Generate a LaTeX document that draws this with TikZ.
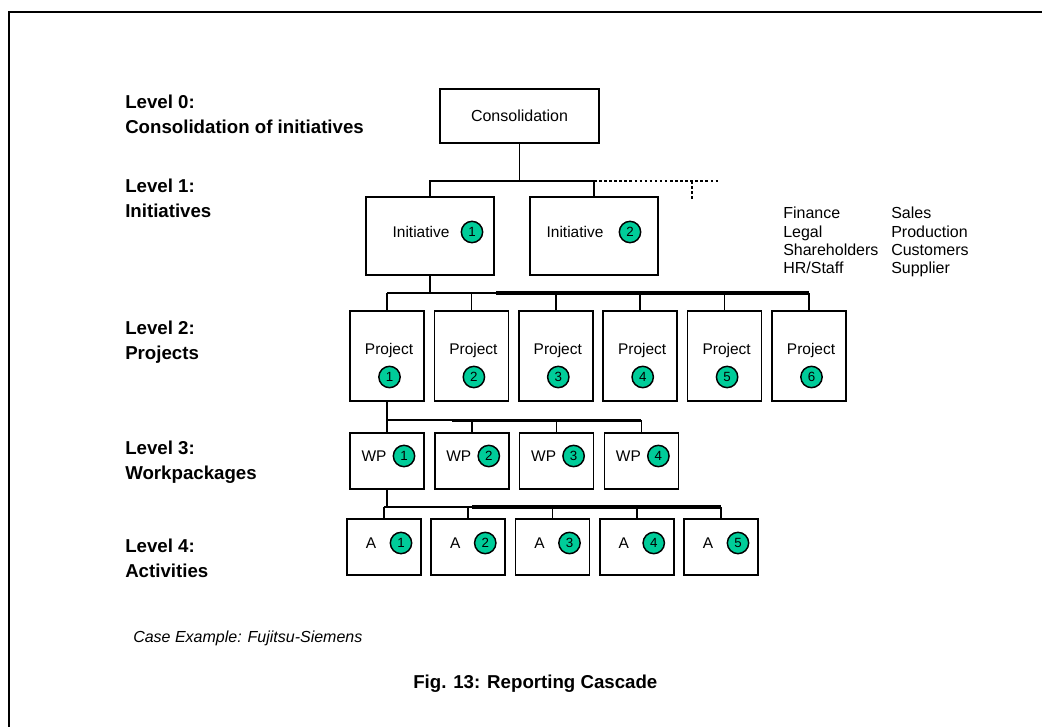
\documentclass[tikz,border=0pt]{standalone}
\usepackage{fontspec}
\setmainfont{Liberation Sans}
\usetikzlibrary{calc}

\definecolor{tealgreen}{RGB}{0,204,153}

\tikzset{
  box/.style={draw, line width=1.2pt, inner sep=0pt, font=\fontsize{12}{12}\selectfont},
  num/.style={circle, draw, fill=tealgreen, line width=1.1pt, minimum size=16pt, inner sep=0pt, font=\fontsize{10}{10}\selectfont},
  lbl/.style={inner sep=0pt, font=\fontsize{11.6}{12}\selectfont},
  levl/.style={anchor=north west, align=left, inner sep=0pt, font=\bfseries\fontsize{14}{18.75}\selectfont},
  lst/.style={anchor=north west, align=left, inner sep=0pt, font=\fontsize{12}{13.7}\selectfont},
  wire/.style={line width=1.15pt},
  bar/.style={line width=3pt},
  dots/.style={line width=1.9pt, dash pattern=on 1.9pt off 1.9pt},
}

\begin{document}
\begin{tikzpicture}[x=0.75pt, y=-0.75pt]
\useasboundingbox (0,0) rectangle (1042,727);

% page frame
\draw[line width=1.5pt] (9,727) -- (9,12) -- (1042,12);

% heights of the buses
\coordinate (bus0) at (0,181);
\coordinate (bus2) at (0,293);
\coordinate (bus3) at (0,420);
\coordinate (bus4) at (0,507);

% level captions
\node[levl] (lv0) at (125,95) {Level 0:\\Consolidation of initiatives};
\node[levl] (lv1) at (125,179) {Level 1:\\Initiatives};
\node[levl] (lv2) at (125,321) {Level 2:\\Projects};
\node[levl] (lv3) at (125,441) {Level 3:\\Workpackages};
\node[levl] (lv4) at (125,539) {Level 4:\\Activities};

% level 0
\node[box, minimum width=119pt, minimum height=40.5pt] (cons) at (519.5,116) {Consolidation};

% level 1
\node[box, minimum width=96pt, minimum height=58.5pt] (ini1) at (430,236) {};
\node[lbl] (ini1-t) at ($(ini1)+(-9,-4)$) {Initiative};
\node[num] (ini1-n) at ($(ini1)+(42,-4)$) {1};
\node[box, minimum width=96pt, minimum height=58.5pt] (ini2) at (594,236) {};
\node[lbl] (ini2-t) at ($(ini2)+(-19,-4)$) {Initiative};
\node[num] (ini2-n) at ($(ini2)+(36,-4)$) {2};

\draw[wire] (cons.south) -- (cons.south |- bus0);
\draw[wire] (ini1.north) -- (ini1.north |- bus0) -| (ini2.north);

% further initiatives (dotted)
\coordinate (dotE) at (719,181);
\coordinate (dotS) at (692,199);
\draw[dots] (ini2.north |- bus0) -- (dotE);
\draw[dots] (dotS |- bus0) -- (dotS);

% stakeholder groups
\node[lst] (grp1) at (783,207) {Finance\\Legal\\Shareholders\\HR/Staff};
\node[lst] (grp2) at (891,207) {Sales\\Production\\Customers\\Supplier};

% level 2
\foreach \i in {1,...,6} {
  \node[box, minimum width=55.5pt, minimum height=67.5pt] (prj\i) at ({387+(\i-1)*84.4},356) {};
  \node[lbl] (prj\i-t) at ($(prj\i)+(2,-5)$) {Project};
  \node[num] (prj\i-n) at ($(prj\i)+(2.5,21)$) {\i};
  \draw[wire] (prj\i.north) -- (prj\i.north |- bus2);
}
\coordinate (bar2) at (496,293);
\draw[wire] (ini1.south) -- (ini1.south |- bus2);
\draw[wire] (prj1.north |- bus2) -- (bar2);
\draw[bar] (bar2) -- (prj6.north |- bus2);

% level 3
\foreach \i in {1,...,4} {
  \node[box, minimum width=55.5pt, minimum height=42pt] (wp\i) at ({387+(\i-1)*84.8},461) {};
  \node[lbl] (wp\i-t) at ($(wp\i)+(-13,-5)$) {WP};
  \node[num] (wp\i-n) at ($(wp\i)+(17,-5)$) {\i};
  \draw[wire] (wp\i.north) -- (wp\i.north |- bus3);
}
\coordinate (bar3) at (452,420);
\draw[wire] (prj1.south) -- (prj1.south |- bus3);
\draw[wire] (wp1.north |- bus3) -- (bar3);
\draw[line width=2.25pt] (bar3) -- (wp4.north |- bus3);

% level 4
\foreach \i in {1,...,5} {
  \node[box, minimum width=55.5pt, minimum height=42pt] (act\i) at ({384+(\i-1)*84.25},547) {};
  \node[lbl] (act\i-t) at ($(act\i)+(-13,-4)$) {A};
  \node[num] (act\i-n) at ($(act\i)+(17,-4)$) {\i};
  \draw[wire] (act\i.north) -- (act\i.north |- bus4);
}
\coordinate (bar4) at (472,507);
\draw[wire] (wp1.south) -- (wp1.south |- bus4);
\draw[wire] (act1.north |- bus4) -- (bar4);
\draw[bar] (bar4) -- (act5.north |- bus4);

% source and caption
\node[anchor=base west, inner sep=0pt, font=\itshape\fontsize{12}{12}\selectfont] (case) at (133,642) {Case Example: Fujitsu-Siemens};
\node[anchor=base west, inner sep=0pt, font=\bfseries\fontsize{14}{14}\selectfont] (fig) at (413,688) {Fig. 13: Reporting Cascade};

\end{tikzpicture}
\end{document}
